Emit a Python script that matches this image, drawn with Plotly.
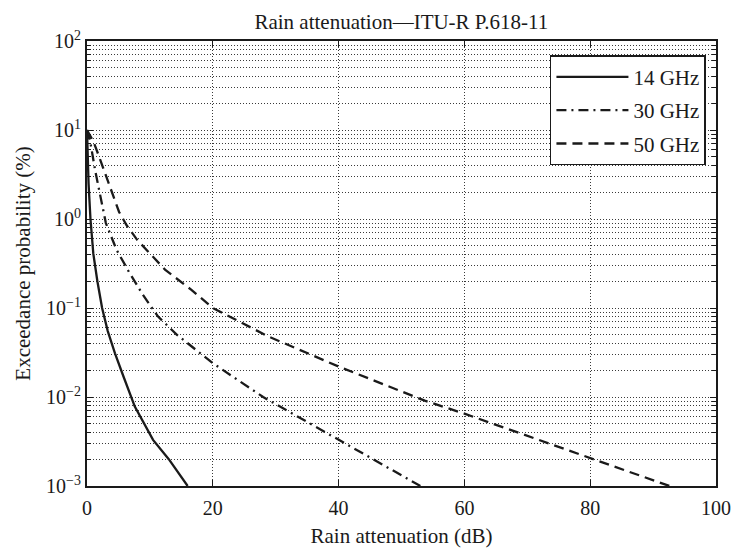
import plotly.graph_objects as go

# ---- data ----
A14 = [0, 0.1, 0.25, 0.55, 1.0, 1.65, 2.4, 3.3, 4.45, 5.8, 7.6, 10.5, 13.0, 16.0]
P14 = [10, 5, 2.5, 1, 0.41, 0.2, 0.1, 0.055, 0.031, 0.017, 0.0078, 0.0033, 0.0020, 0.001]

A30 = [0, 0.5, 1.3, 2.2, 3.0, 4.7, 6.6, 8.9, 11.3, 14.3, 20, 28, 40, 53]
P30 = [10, 7.5, 3.5, 1.7, 0.9, 0.45, 0.26, 0.14, 0.08, 0.05, 0.024, 0.01, 0.0033, 0.001]

A50 = [0, 1.0, 1.8, 3.9, 5.1, 6.3, 8.0, 12.4, 16.6, 20, 28.8, 40, 53.7, 60, 80, 92.6]
P50 = [10, 7.5, 5.3, 2.1, 1.2, 0.85, 0.58, 0.27, 0.16, 0.1, 0.048, 0.022, 0.0091, 0.0065, 0.00207, 0.001]

series_names = ["14 GHz", "30 GHz", "50 GHz"]
y_tickvals = [0.001, 0.01, 0.1, 1, 10, 100]
y_ticktext = ["10<sup>\u22123</sup>", "10<sup>\u22122</sup>", "10<sup>\u22121</sup>",
              "10<sup>0</sup>", "10<sup>1</sup>", "10<sup>2</sup>"]
x_tickvals = [0, 20, 40, 60, 80, 100]

FONT = "Liberation Serif, DejaVu Serif, serif"
INK = "#1a1a1a"
GRID = "#3a3a3a"
GDASH = "1px,2px"

fig = go.Figure()
styles = ["solid", "10px,5px,2px,5px", "10px,6px"]
for i, (ax, py) in enumerate([(A14, P14), (A30, P30), (A50, P50)]):
    fig.add_trace(go.Scatter(
        x=ax, y=py, mode="lines", name=series_names[i],
        legendgroup=series_names[i],
        line=dict(color=INK, width=2.3, dash=styles[i]),
    ))

fig.update_layout(
    width=731, height=548,
    margin=dict(l=87, r=15, t=41, b=62, autoexpand=False),
    paper_bgcolor="white", plot_bgcolor="white",
    font=dict(family=FONT, size=20, color=INK),
    title=dict(text="Rain attenuation\u2014ITU-R P.618-11", x=0.549, xanchor="center",
               y=0.96, yanchor="middle", font=dict(family=FONT, size=21, color=INK)),
    showlegend=True,
    legend=dict(x=0.984, xanchor="right", y=0.968, yanchor="top",
                bordercolor=INK, borderwidth=1.5, bgcolor="white",
                font=dict(family=FONT, size=21, color=INK), itemwidth=72, tracegroupgap=3),
)
fig.update_xaxes(
    range=[0, 100], tickvals=x_tickvals, showgrid=True, griddash=GDASH,
    gridcolor=GRID, gridwidth=1, ticks="inside", ticklen=6, tickcolor=INK,
    mirror="allticks", showline=True, linecolor=INK, linewidth=2,
    zeroline=False, automargin=False, ticklabelstandoff=3,
    tickfont=dict(family=FONT, size=20, color=INK),
    title=dict(text="Rain attenuation (dB)", standoff=16,
               font=dict(family=FONT, size=21, color=INK)),
)
fig.update_yaxes(
    type="log", range=[-3, 2], tickmode="array", tickvals=y_tickvals, ticktext=y_ticktext,
    showgrid=True, griddash=GDASH, gridcolor=GRID, gridwidth=1,
    ticks="inside", ticklen=6, tickcolor=INK, automargin=False,
    tickfont=dict(family=FONT, size=20, color=INK),
    mirror="allticks", showline=True, linecolor=INK, linewidth=2, zeroline=False,
    minor=dict(dtick="D1", ticks="inside", ticklen=4, tickcolor=INK,
               showgrid=True, griddash=GDASH, gridcolor=GRID, gridwidth=1),
    title=dict(text="Exceedance probability (%)", standoff=10,
               font=dict(family=FONT, size=21, color=INK)),
)
fig.write_html("out.html")
